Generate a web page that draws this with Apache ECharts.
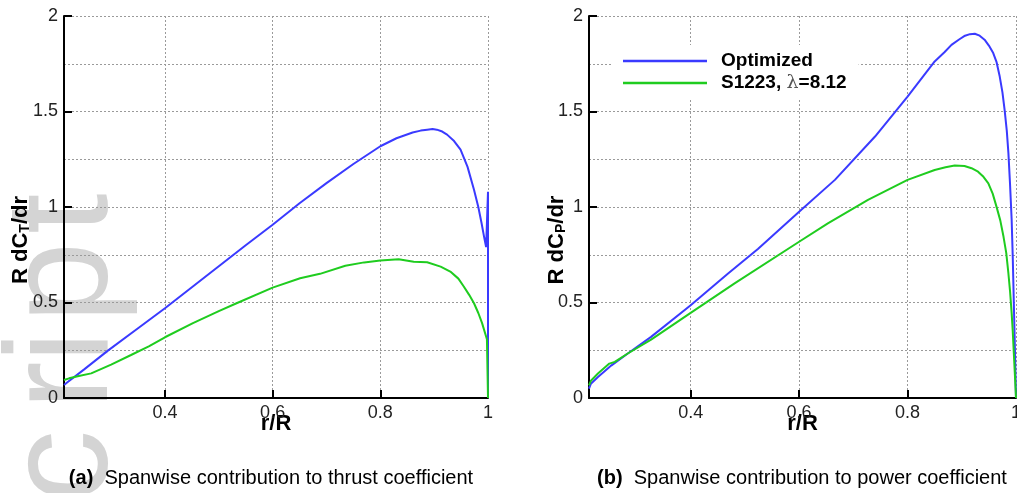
<!DOCTYPE html>
<html>
<head>
<meta charset="utf-8">
<script src="https://cdn.jsdelivr.net/npm/echarts@6/dist/echarts.min.js"></script>
<style>
html,body{margin:0;padding:0;background:#fff;}
#c{width:1017px;height:493px;}
</style>
</head>
<body>
<div id="c"></div>
<script>
// ---- data ----
var xTicks = [0.4, 0.6, 0.8, 1];
var seriesNames = ['Optimized', 'S1223, λ=8.12'];

// (a) thrust
var thrOptX = [0.2125,0.22,0.25,0.294,0.35,0.4,0.45,0.5,0.55,0.6,0.65,0.7,0.75,0.8,0.83,0.86,0.875,0.887,0.897,0.905,0.915,0.924,0.937,0.949,0.962,0.974,0.982,0.988,0.993,0.9965,1.0,1.0];
var thrOptY = [0.068,0.085,0.15,0.248,0.365,0.47,0.58,0.69,0.80,0.907,1.02,1.125,1.225,1.318,1.36,1.39,1.40,1.405,1.408,1.405,1.395,1.379,1.345,1.30,1.21,1.09,1.00,0.916,0.84,0.79,1.08,0];
var thrRefX = [0.2125,0.222,0.24,0.263,0.3,0.337,0.37,0.4,0.452,0.5,0.533,0.6,0.651,0.688,0.735,0.77,0.8,0.834,0.862,0.887,0.912,0.93,0.945,0.955,0.965,0.974,0.982,0.989,0.998,1.0];
var thrRefY = [0.094,0.103,0.115,0.129,0.175,0.225,0.27,0.318,0.392,0.455,0.496,0.578,0.627,0.650,0.692,0.71,0.72,0.727,0.713,0.711,0.688,0.662,0.625,0.584,0.54,0.496,0.445,0.392,0.308,0];

// (b) power
var powOptX = [0.2125,0.216,0.229,0.254,0.284,0.327,0.4,0.469,0.524,0.6,0.666,0.74,0.8,0.85,0.868,0.881,0.895,0.906,0.915,0.924,0.933,0.942,0.95,0.958,0.964,0.970,0.975,0.979,0.983,0.986,0.989,0.992,0.994,0.996,0.998,1.0];
var powOptY = [0.049,0.075,0.110,0.171,0.233,0.320,0.486,0.652,0.78,0.975,1.142,1.369,1.578,1.762,1.81,1.849,1.877,1.897,1.905,1.907,1.897,1.876,1.845,1.806,1.76,1.683,1.60,1.509,1.40,1.282,1.12,0.932,0.74,0.495,0.26,0];
var powRefX = [0.2125,0.216,0.229,0.25,0.26,0.284,0.327,0.4,0.481,0.6,0.653,0.727,0.8,0.85,0.87,0.887,0.905,0.918,0.93,0.94,0.949,0.957,0.964,0.971,0.977,0.982,0.986,0.989,0.992,0.994,0.996,0.998,1.0];
var powRefY = [0.066,0.09,0.128,0.180,0.189,0.233,0.306,0.446,0.600,0.818,0.914,1.037,1.142,1.194,1.208,1.217,1.215,1.203,1.185,1.158,1.124,1.07,1.002,0.93,0.844,0.76,0.652,0.56,0.443,0.35,0.233,0.12,0];

function zip(xs, ys){ return xs.map(function(x,i){ return [x, ys[i]]; }); }

var FONT = '"Liberation Sans", Arial, Helvetica, sans-serif';
var BLUE = '#3a3aff', GREEN = '#1fcc1f';

function xAxisCfg(gi){
  return {
    type:'value', gridIndex:gi, min:0.2125, max:1, interval:0.2,
    axisLine:{show:true, onZero:false, lineStyle:{color:'#000', width:2}},
    axisTick:{show:true, inside:true, length:8, customValues:xTicks, lineStyle:{color:'#000', width:2}},
    axisLabel:{show:true, customValues:xTicks, fontSize:18, color:'#222', margin:6, fontFamily:FONT,
      formatter:function(v){ return String(Math.round(v*10)/10); }},
    splitLine:{show:true, lineStyle:{type:[2,2], color:'#9a9a9a', width:1}},
    name:'r/R', nameLocation:'middle', nameGap:15, nameMoveOverlap:false,
    nameTextStyle:{fontSize:22, fontWeight:'bold', color:'#000', fontFamily:FONT, lineHeight:22}
  };
}
function yAxisCfg(gi, sub, gap){
  return {
    type:'value', gridIndex:gi, min:0, max:2, interval:0.5,
    axisLine:{show:true, onZero:false, lineStyle:{color:'#000', width:2}},
    axisTick:{show:true, inside:true, length:8, lineStyle:{color:'#000', width:2}},
    minorTick:{show:false, splitNumber:2},
    minorSplitLine:{show:true, lineStyle:{type:[2,2], color:'#9a9a9a', width:1}},
    axisLabel:{fontSize:18, color:'#222', margin:6, fontFamily:FONT,
      formatter:function(v){ return String(v); }},
    splitLine:{show:true, lineStyle:{type:[2,2], color:'#9a9a9a', width:1}},
    name:'{a|R dC}{s|' + sub + '}{a|/dr}', nameLocation:'middle', nameGap:gap, nameMoveOverlap:false,
    nameTextStyle:{
      padding:[0,66,0,0],
      rich:{
        a:{fontSize:22, fontWeight:'bold', color:'#000', fontFamily:FONT, lineHeight:22, verticalAlign:'top'},
        s:{fontSize:14, fontWeight:'bold', color:'#000', fontFamily:FONT, lineHeight:14, verticalAlign:'bottom', padding:[12,0,0,0]}
      }
    }
  };
}
function lineSeries(name, color, gi, xs, ys){
  return {
    name:name, type:'line', xAxisIndex:gi, yAxisIndex:gi,
    data: zip(xs, ys), showSymbol:false, symbol:'none', clip:false, smooth:false,
    lineStyle:{color:color, width:2}, itemStyle:{color:color},
    animation:false
  };
}

// watermark letters (light grey, rotated)
var wmLetters = ['c','r','i','p','t'];
var wmOrigins = [503, 410, 363, 323, 234];

var graphics = wmLetters.map(function(ch, i){
  return {
    type:'text', x:67, y:wmOrigins[i], rotation:Math.PI/2, z:-10, silent:true,
    style:{text:ch, font:'146px ' + FONT, fill:'#d4d4d4', align:'left', verticalAlign:'middle'}
  };
});
graphics.push({
  type:'text', x:271, y:478, z:5,
  style:{text:'{b|(a)}  Spanwise contribution to thrust coefficient', font:'20px ' + FONT, fill:'#000',
    align:'center', verticalAlign:'middle',
    rich:{b:{fontWeight:'bold', fontSize:20, fontFamily:FONT, fill:'#000'}}}
});
graphics.push({
  type:'text', x:802, y:478, z:5,
  style:{text:'{b|(b)}  Spanwise contribution to power coefficient', font:'20px ' + FONT, fill:'#000',
    align:'center', verticalAlign:'middle',
    rich:{b:{fontWeight:'bold', fontSize:20, fontFamily:FONT, fill:'#000'}}}
});

var chart = echarts.init(document.getElementById('c'), null, {renderer:'canvas'});
chart.setOption({
  animation:false,
  backgroundColor:'#fff',
  textStyle:{fontFamily:FONT},
  grid:[
    {left:64, top:16, width:424, height:382, containLabel:false, outerBoundsMode:'none'},
    {left:589, top:16, width:427, height:382, containLabel:false, outerBoundsMode:'none'}
  ],
  xAxis:[xAxisCfg(0), xAxisCfg(1)],
  yAxis:[yAxisCfg(0,'T',32), yAxisCfg(1,'P',21)],
  legend:{
    data:seriesNames, orient:'vertical', left:612, top:45,
    icon:'rect', itemWidth:84, itemHeight:2.5, itemGap:0,
    backgroundColor:'#fff', padding:[5,12,5,11],
    textStyle:{fontSize:19, fontWeight:'bold', color:'#000', fontFamily:FONT, lineHeight:22, padding:[0,0,0,9],
      rich:{l:{fontSize:19, fontWeight:'normal', color:'#555', fontFamily:'"DejaVu Serif", serif', lineHeight:22}}},
    formatter:function(n){ return n.replace('λ', '{l|λ}'); },
    selectedMode:false
  },
  graphic:graphics,
  series:[
    lineSeries(seriesNames[0], BLUE, 0, thrOptX, thrOptY),
    lineSeries(seriesNames[1], GREEN, 0, thrRefX, thrRefY),
    lineSeries(seriesNames[0], BLUE, 1, powOptX, powOptY),
    lineSeries(seriesNames[1], GREEN, 1, powRefX, powRefY)
  ]
});
</script>
</body>
</html>
